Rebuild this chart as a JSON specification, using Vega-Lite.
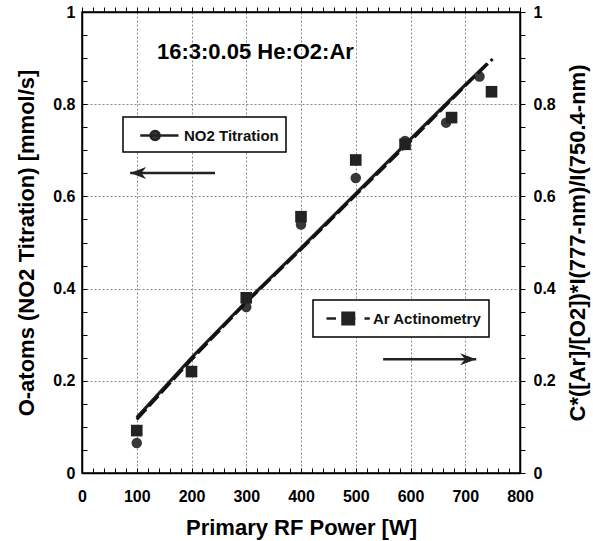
{
  "$schema": "https://vega.github.io/schema/vega-lite/v6.json",
  "autosize": {"type": "none"},
  "width": 438,
  "height": 461,
  "padding": {"left": 82, "top": 12, "right": 73, "bottom": 68},
  "background": "white",
  "view": {"stroke": "black", "strokeWidth": 1.5},
  "title": {"text": "16:3:0.05 He:O2:Ar", "anchor": "start", "frame": "group", "orient": "top", "offset": 0, "dx": 75, "dy": 77, "baseline": "alphabetic", "font": "Liberation Sans", "fontSize": 22, "fontWeight": "bold", "color": "black"},
  "datasets": {
    "no2": [
      {"power": 100, "value": 0.065, "series": "NO2 Titration"},
      {"power": 300, "value": 0.36, "series": "NO2 Titration"},
      {"power": 400, "value": 0.539, "series": "NO2 Titration"},
      {"power": 500, "value": 0.64, "series": "NO2 Titration"},
      {"power": 590, "value": 0.72, "series": "NO2 Titration"},
      {"power": 665, "value": 0.76, "series": "NO2 Titration"},
      {"power": 726, "value": 0.86, "series": "NO2 Titration"}
    ],
    "ar": [
      {"power": 100, "value": 0.092, "series": "Ar Actinometry"},
      {"power": 200, "value": 0.22, "series": "Ar Actinometry"},
      {"power": 300, "value": 0.38, "series": "Ar Actinometry"},
      {"power": 400, "value": 0.556, "series": "Ar Actinometry"},
      {"power": 500, "value": 0.679, "series": "Ar Actinometry"},
      {"power": 590, "value": 0.713, "series": "Ar Actinometry"},
      {"power": 675, "value": 0.771, "series": "Ar Actinometry"},
      {"power": 748, "value": 0.827, "series": "Ar Actinometry"}
    ],
    "no2fit": [
      {"power": 100, "value": 0.12},
      {"power": 200, "value": 0.25},
      {"power": 300, "value": 0.372},
      {"power": 400, "value": 0.488},
      {"power": 500, "value": 0.606},
      {"power": 600, "value": 0.724},
      {"power": 700, "value": 0.842},
      {"power": 740, "value": 0.888}
    ],
    "arfit": [
      {"power": 100, "value": 0.116},
      {"power": 200, "value": 0.246},
      {"power": 300, "value": 0.37},
      {"power": 400, "value": 0.485},
      {"power": 500, "value": 0.603},
      {"power": 600, "value": 0.72},
      {"power": 700, "value": 0.84},
      {"power": 750, "value": 0.898}
    ],
    "arrows": [
      {"from": 243, "to": 88, "value": 0.651, "dir": "left"},
      {"from": 550, "to": 720, "value": 0.247, "dir": "right"}
    ]
  },
  "layer": [
    {
      "encoding": {
        "x": {"field": "power", "type": "quantitative", "scale": {"domain": [0, 800], "nice": false, "zero": false},
          "axis": {"orient": "bottom", "title": "Primary RF Power [W]", "values": [0,20,40,60,80,100,120,140,160,180,200,220,240,260,280,300,320,340,360,380,400,420,440,460,480,500,520,540,560,580,600,620,640,660,680,700,720,740,760,780,800],
            "format": "d", "labelExpr": "datum.value % 100 === 0 ? datum.label : ''", "ticks": true, "tickSize": -5, "labelPadding": 20, "titlePadding": 13,
            "grid": true, "gridColor": {"condition": {"test": "datum.value % 100 === 0", "value": "#888888"}, "value": "transparent"}}},
        "y": {"field": "value", "type": "quantitative", "scale": {"domain": [0, 1], "nice": false},
          "axis": {"orient": "left", "title": "O-atoms (NO2 Titration) [mmol/s]", "values": [0,0.05,0.1,0.15,0.2,0.25,0.3,0.35,0.4,0.45,0.5,0.55,0.6,0.65,0.7,0.75,0.8,0.85,0.9,0.95,1],
            "format": ".2~f", "labelExpr": "abs(datum.value*5 - round(datum.value*5)) < 0.001 ? datum.label : ''", "ticks": true, "tickSize": -5, "labelPadding": 12, "titlePadding": 14,
            "grid": true, "gridColor": {"condition": {"test": "abs(datum.value*5 - round(datum.value*5)) < 0.001", "value": "#888888"}, "value": "transparent"}}}
      },
      "layer": [
        {"data": {"name": "no2fit"}, "mark": {"type": "line", "color": "#1e1e1e", "strokeWidth": 3.2}},
        {"data": {"name": "no2"}, "mark": {"type": "point", "shape": "circle", "filled": true, "size": 110, "opacity": 1},
          "encoding": {"color": {"field": "series", "type": "nominal", "scale": {"domain": ["NO2 Titration"], "range": ["#383838"]},
            "legend": {"title": null, "orient": "none", "legendX": 41, "legendY": 105, "padding": 7, "strokeColor": "black", "fillColor": "white",
              "symbolType": "M-0.13,0H3.7M0.91,0A0.45,0.45 0 1,1 1.81,0A0.45,0.45 0 1,1 0.91,0Z", "symbolSize": 400, "labelOffset": 31,
              "symbolFillColor": "#333333", "symbolStrokeColor": "#222222", "symbolStrokeWidth": 2.5, "symbolOpacity": 1,
              "labelFont": "Liberation Sans", "labelFontSize": 15, "labelFontWeight": "bold", "labelColor": "#111",
              "encode": {"legend": {"update": {"stroke": {"value": "black"}, "strokeWidth": {"value": 1.5}}}, "symbols": {"update": {"fill": {"value": "#333333"}, "stroke": {"value": "#222222"}, "strokeWidth": {"value": 2.5}, "strokeOpacity": {"value": 1}, "fillOpacity": {"value": 1}, "opacity": {"value": 1}}}}}}}}
      ]
    },
    {
      "encoding": {
        "x": {"field": "power", "type": "quantitative", "scale": {"domain": [0, 800], "nice": false, "zero": false},
          "axis": {"orient": "top", "title": null, "values": [0,20,40,60,80,100,120,140,160,180,200,220,240,260,280,300,320,340,360,380,400,420,440,460,480,500,520,540,560,580,600,620,640,660,680,700,720,740,760,780,800],
            "labels": false, "ticks": true, "tickSize": 5, "grid": false}},
        "y": {"field": "value", "type": "quantitative", "scale": {"domain": [0, 1], "nice": false},
          "axis": {"orient": "right", "title": "C*([Ar]/[O2])*I(777-nm)/I(750.4-nm)", "titleAngle": 270, "titleBaseline": "top", "values": [0,0.05,0.1,0.15,0.2,0.25,0.3,0.35,0.4,0.45,0.5,0.55,0.6,0.65,0.7,0.75,0.8,0.85,0.9,0.95,1],
            "format": ".2~f", "labelExpr": "abs(datum.value*5 - round(datum.value*5)) < 0.001 ? datum.label : ''", "ticks": true, "tickSize": 5, "labelPadding": 8, "titlePadding": 12, "grid": false}}
      },
      "layer": [
        {"data": {"name": "arfit"}, "mark": {"type": "line", "color": "#111", "strokeWidth": 3, "strokeDash": [14, 4]}},
        {"data": {"name": "ar"}, "mark": {"type": "point", "shape": "square", "filled": true, "size": 135, "opacity": 1},
          "encoding": {"color": {"field": "series", "type": "nominal", "scale": {"domain": ["Ar Actinometry"], "range": ["#222222"]},
            "legend": {"title": null, "orient": "none", "legendX": 231, "legendY": 288, "padding": 7, "strokeColor": "black", "fillColor": "white",
              "symbolType": "M-0.5,0H0.45M1.1,-0.58H2.25V0.58H1.1ZM2.25,0H2.4M3.3,0H3.83", "symbolSize": 400, "labelOffset": 30,
              "symbolFillColor": "#222222", "symbolStrokeColor": "#222222", "symbolStrokeWidth": 2.5, "symbolOpacity": 1,
              "labelFont": "Liberation Sans", "labelFontSize": 15, "labelFontWeight": "bold", "labelColor": "#111",
              "encode": {"legend": {"update": {"stroke": {"value": "black"}, "strokeWidth": {"value": 1.5}}}, "symbols": {"update": {"fill": {"value": "#222222"}, "stroke": {"value": "#222222"}, "strokeWidth": {"value": 2.5}, "strokeOpacity": {"value": 1}, "fillOpacity": {"value": 1}, "opacity": {"value": 1}}}}}}}}
      ]
    },
    {
      "data": {"name": "arrows"},
      "mark": {"type": "rule", "color": "#222", "strokeWidth": 2.5},
      "encoding": {
        "x": {"field": "from", "type": "quantitative", "scale": {"domain": [0, 800], "nice": false, "zero": false}, "axis": null},
        "x2": {"field": "to"},
        "y": {"field": "value", "type": "quantitative", "scale": {"domain": [0, 1], "nice": false}, "axis": null}
      }
    },
    {
      "data": {"name": "arrows"},
      "mark": {"type": "point", "filled": true, "opacity": 1, "color": "#222", "size": 256},
      "encoding": {
        "x": {"field": "to", "type": "quantitative", "scale": {"domain": [0, 800], "nice": false, "zero": false}, "axis": null},
        "y": {"field": "value", "type": "quantitative", "scale": {"domain": [0, 1], "nice": false}, "axis": null},
        "shape": {"field": "dir", "type": "nominal", "scale": {"domain": ["left", "right"], "range": ["M0,0L2,-0.75L1.4,0L2,0.75Z", "M0,0L-2,-0.75L-1.4,0L-2,0.75Z"]}, "legend": null}
      }
    }
  ],
  "resolve": {"scale": {"x": "independent", "y": "independent", "color": "independent", "shape": "independent"}},
  "config": {
    "axis": {"labelFont": "Liberation Sans", "labelFontSize": 16, "labelFontWeight": "bold", "labelColor": "black",
      "titleFont": "Liberation Sans", "titleFontSize": 22, "titleFontWeight": "bold", "titleColor": "black",
      "domainColor": "black", "domainWidth": 1.5, "tickColor": "black", "tickWidth": 1,
      "gridColor": "#888", "gridDash": [2, 2], "gridWidth": 1, "labelOverlap": false, "labelFlush": false}
  }
}
